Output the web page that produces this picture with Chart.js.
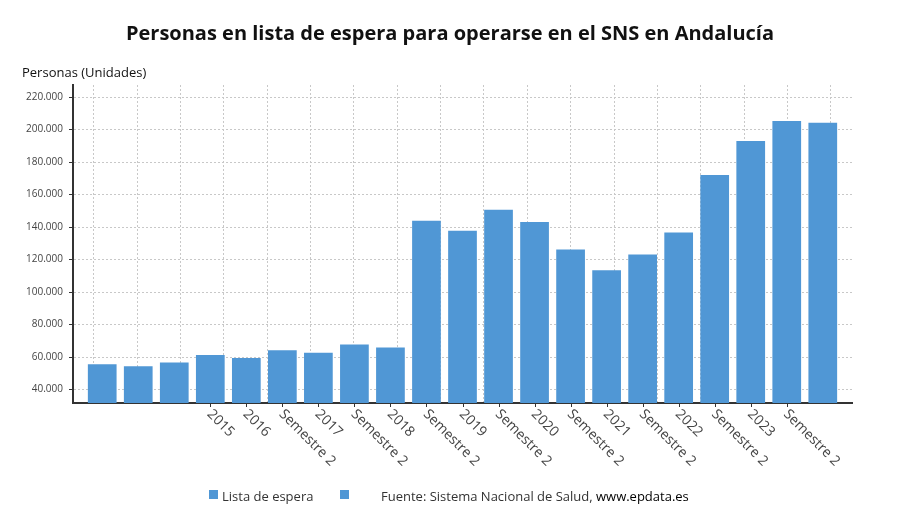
<!DOCTYPE html>
<html>
<head>
<meta charset="utf-8">
<script src="https://cdn.jsdelivr.net/npm/chart.js@4/dist/chart.umd.min.js"></script>
<style>
  html, body { margin: 0; padding: 0; background: #fff; }
  #wrap { position: relative; width: 900px; height: 528px; font-family: "Open Sans", sans-serif; }
  #chart { position: absolute; left: 0; top: 0; }
  #title { position: absolute; left: 0; top: 19px; width: 900px; text-align: center; font-size: 20px; font-weight: 700; color: #111; }
  #ytitle { position: absolute; left: 22px; top: 63px; font-size: 13px; font-weight: 500; color: #111; }
  .leg { position: absolute; top: 487px; font-size: 13px; color: #333; white-space: nowrap; }
  .sq { position: absolute; top: 490px; width: 9px; height: 9px; background: #5097d5; }
</style>
</head>
<body>
<div id="wrap">
  <canvas id="chart" width="900" height="528"></canvas>
  <div id="title">Personas en lista de espera para operarse en el SNS en Andalucía</div>
  <div id="ytitle">Personas (Unidades)</div>
  <div class="sq" style="left:209px"></div>
  <div class="leg" style="left:222px">Lista de espera</div>
  <div class="sq" style="left:340px"></div>
  <div class="leg" style="left:381px">Fuente: Sistema Nacional de Salud, <span style="color:#000">www.epdata.es</span></div>
</div>
<script>
const categories = ['', '', '', '2015', '2016', 'Semestre 2', '2017', 'Semestre 2', '2018', 'Semestre 2', '2019', 'Semestre 2', '2020', 'Semestre 2', '2021', 'Semestre 2', '2022', 'Semestre 2', '2023', 'Semestre 2', ''];
const values = [55600, 54400, 56600, 61300, 59500, 64200, 62600, 67700, 65900, 143900, 137800, 150700, 143100, 126200, 113400, 123100, 136600, 172000, 192900, 205200, 204100];
const yTicks = [40000, 60000, 80000, 100000, 120000, 140000, 160000, 180000, 200000, 220000];
const seriesName = 'Lista de espera';

const fmt = v => String(Math.round(v)).replace(/\B(?=(\d{3})+(?!\d))/g, '.');

const xLabelsPlugin = {
  id: 'xLabels',
  afterDraw(chart) {
    const ctx = chart.ctx;
    const xs = chart.scales.x;
    const bottom = chart.chartArea.bottom;
    ctx.save();
    ctx.font = '14px "Open Sans", sans-serif';
    ctx.fillStyle = '#444';
    ctx.strokeStyle = '#333';
    ctx.lineWidth = 1;
    categories.forEach((lab, i) => {
      if (!lab) return;
      const px = xs.getPixelForValue(i);
      ctx.beginPath();
      ctx.moveTo(Math.round(px) + 0.5, bottom);
      ctx.lineTo(Math.round(px) + 0.5, bottom + 4);
      ctx.stroke();
      ctx.save();
      ctx.translate(px - 1, bottom + 9);
      ctx.rotate(Math.PI / 4);
      ctx.textAlign = 'left';
      ctx.textBaseline = 'middle';
      ctx.fillText(lab, 0, 0);
      ctx.restore();
    });
    ctx.restore();
  }
};

new Chart(document.getElementById('chart'), {
  type: 'bar',
  data: {
    datasets: [{
      label: seriesName,
      data: values.map((v, i) => ({ x: i, y: v })),
      backgroundColor: '#5097d5',
      borderWidth: 0,
      barPercentage: 0.797,
      categoryPercentage: 1,
      xAxisID: 'x',
      yAxisID: 'y'
    }]
  },
  options: {
    responsive: false,
    animation: false,
    devicePixelRatio: 1,
    layout: { padding: { left: 0, top: 85, right: 48, bottom: 125 } },
    plugins: { legend: { display: false }, title: { display: false }, tooltip: { enabled: false } },
    scales: {
      x: {
        type: 'linear',
        position: 'bottom',
        offset: false,
        grace: 0,
        min: -0.811,
        max: 20.811,
        ticks: { display: false },
        grid: { display: false, offset: false },
        border: { display: true, color: '#333', width: 2 },
        afterFit(s) { s.height = 0; }
      },
      x2: {
        type: 'linear',
        position: 'top',
        offset: false,
        min: -0.478,
        max: 17.487,
        ticks: { display: false, stepSize: 1, includeBounds: false },
        grid: { display: true, offset: false, color: '#c8c8c8', drawTicks: false, lineWidth: 1 },
        border: { display: false, dash: [2, 2] },
        afterFit(s) { s.height = 0; }
      },
      y: {
        type: 'linear',
        min: 31750,
        max: 227400,
        afterBuildTicks(s) { s.ticks = yTicks.map(v => ({ value: v })); },
        ticks: {
          includeBounds: false,
          color: '#444',
          font: { family: '"Open Sans", sans-serif', size: 10 },
          padding: 6,
          callback: v => fmt(v)
        },
        grid: { color: '#c8c8c8', tickColor: '#333', tickLength: 4, lineWidth: 1 },
        border: { display: true, color: '#333', width: 2, dash: [2, 2] },
        afterFit(s) { s.width = 73; }
      }
    }
  },
  plugins: [xLabelsPlugin]
});
</script>
</body>
</html>
